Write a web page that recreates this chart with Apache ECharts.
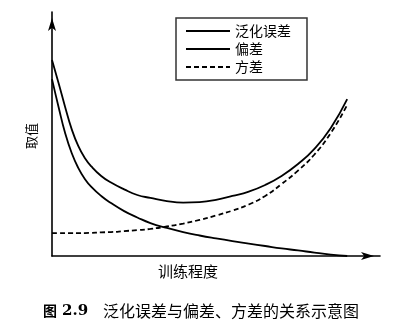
<!DOCTYPE html>
<html>
<head>
<meta charset="utf-8">
<script src="https://cdn.jsdelivr.net/npm/echarts@6/dist/echarts.min.js"></script>
<style>
  html, body { margin: 0; padding: 0; background: #fff; }
  #chart { width: 397px; height: 325px; }
</style>
</head>
<body>
<div id="chart"></div>
<script>
// Training progress (x) and the three error components (y, arbitrary units 0-100)
var trainLevel = [0, 2, 4, 6, 8, 10, 12, 15, 18, 22, 26, 30, 35, 40, 45, 50, 55, 60, 65, 70, 75, 80, 85, 90];
var generalizationError = [80.3, 70.9, 61.1, 52.0, 45.1, 40.2, 36.7, 32.8, 30.1, 27.3, 25.0, 23.8, 22.5, 21.9, 22.1, 23.0, 24.6, 26.4, 29.1, 32.8, 37.7, 43.9, 52.5, 64.3];
var bias = [72.5, 61.1, 50.4, 42.2, 36.1, 31.6, 28.3, 24.6, 21.7, 18.4, 15.8, 13.5, 11.5, 9.8, 8.4, 7.2, 6.1, 5.1, 4.1, 3.1, 2.3, 1.4, 0.6, 0];
var variance = [9.4, 9.4, 9.4, 9.4, 9.4, 9.4, 9.5, 9.7, 9.8, 10.2, 10.6, 11.1, 12.1, 13.3, 14.8, 16.6, 18.6, 21.1, 24.6, 29.5, 35.0, 41.6, 50.4, 61.9];

var seriesNames = ['泛化误差', '偏差', '方差'];
var xAxisName = '训练程度';
var yAxisName = '取值';
var figureNumber = '2.9';
var captionText = '泛化误差与偏差、方差的关系示意图';

function pairs(ys) {
  return trainLevel.map(function (x, i) { return [x, ys[i]]; });
}

var cjk = '"Noto Sans CJK SC", "Noto Sans", sans-serif';

var chart = echarts.init(document.getElementById('chart'), null, { renderer: 'canvas' });

var axisCommon = {
  type: 'value',
  min: 0,
  max: 100,
  axisLine: {
    show: true,
    lineStyle: { color: '#000', width: 1.6 },
    symbol: ['none', 'arrow'],
    symbolSize: [6, 13],
    symbolOffset: [0, -6]
  },
  axisTick: { show: false },
  axisLabel: { show: false },
  splitLine: { show: false }
};

function lineSeries(name, ys, dashed) {
  return {
    name: name,
    type: 'line',
    data: pairs(ys),
    smooth: 0.5,
    symbol: 'none',
    silent: true,
    color: '#000',
    lineStyle: { color: '#000', width: 1.8, type: dashed ? [5, 3] : 'solid' },
    z: 3
  };
}

chart.setOption({
  backgroundColor: '#fff',
  animation: false,
  grid: { left: 52, top: 12, width: 328, height: 244 },
  xAxis: Object.assign({}, axisCommon),
  yAxis: Object.assign({}, axisCommon),
  legend: {
    orient: 'vertical',
    left: 176,
    top: 18,
    padding: [6, 16, 6, 9],
    itemWidth: 44,
    itemHeight: 14,
    itemGap: 4,
    borderColor: '#333',
    borderWidth: 1.5,
    backgroundColor: '#fff',
    itemStyle: { opacity: 0 },
    data: seriesNames,
    textStyle: { fontFamily: cjk, fontSize: 14, color: '#000' }
  },
  series: [
    lineSeries(seriesNames[0], generalizationError, false),
    lineSeries(seriesNames[1], bias, false),
    lineSeries(seriesNames[2], variance, true)
  ],
  graphic: [
    {
      type: 'text', x: 31, y: 136, rotation: Math.PI / 2,
      style: { text: yAxisName, fontFamily: cjk, fontSize: 13, fill: '#000', align: 'center', verticalAlign: 'middle' }
    },
    {
      type: 'text', x: 188, y: 271,
      style: { text: xAxisName, fontFamily: cjk, fontSize: 15, fill: '#000', align: 'center', verticalAlign: 'middle' }
    },
    {
      type: 'text', x: 43, y: 311,
      style: { text: '图', fontFamily: cjk, fontSize: 14, fontWeight: 'bold', fill: '#000', align: 'left', verticalAlign: 'middle' }
    },
    {
      type: 'text', x: 62, y: 311,
      style: { text: figureNumber, fontFamily: '"DejaVu Serif", serif', fontSize: 15, fontWeight: 'bold', fill: '#000', align: 'left', verticalAlign: 'middle' }
    },
    {
      type: 'text', x: 103, y: 311,
      style: { text: captionText, fontFamily: cjk, fontSize: 16, fill: '#000', align: 'left', verticalAlign: 'middle' }
    }
  ]
});
</script>
</body>
</html>
